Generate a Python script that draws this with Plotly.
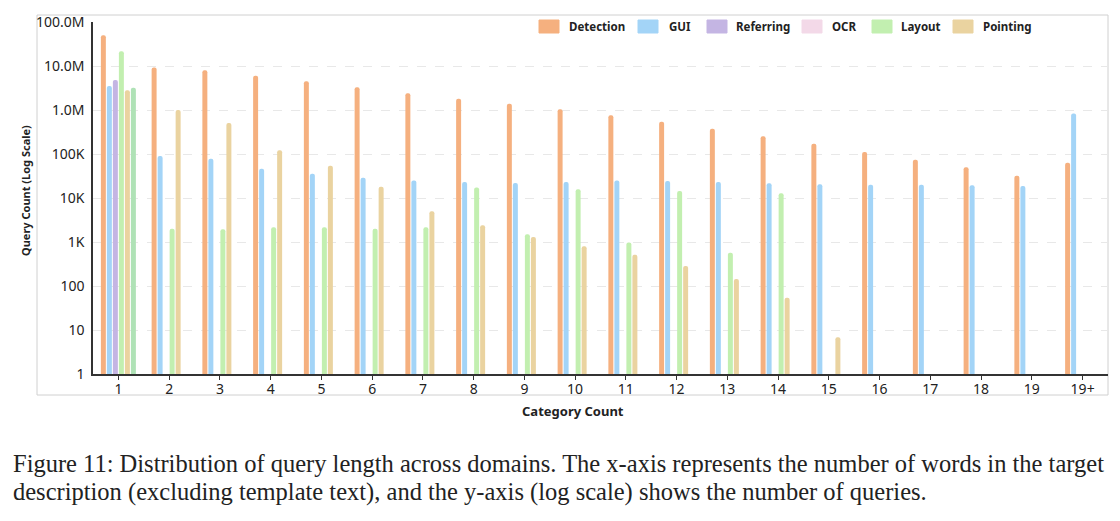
import plotly.graph_objects as go

categories = [str(i) for i in range(1, 20)] + ["19+"]

detection = [50e6, 9.2e6, 8.0e6, 6.0e6, 4.5e6, 3.3e6, 2.4e6, 1.8e6, 1.38e6, 1.04e6,
             760e3, 540e3, 377e3, 252e3, 170e3, 111e3, 74e3, 50e3, 32e3, 63e3]
gui = [3.5e6, 90e3, 78e3, 46e3, 35.6e3, 29e3, 25e3, 23e3, 22e3, 23e3,
       25e3, 24.5e3, 23e3, 21.5e3, 20.5e3, 20e3, 20e3, 19.4e3, 18.7e3, 830e3]
referring = [4.8e6] + [None] * 19
layout_vals = [21.6e6, 2.0e3, 1.95e3, 2.15e3, 2.15e3, 2.0e3, 2.15e3, 17.4e3, 1.5e3, 15.8e3,
               980, 14.4e3, 570, 12.8e3] + [None] * 6
pointing = [2.8e6, 1.0e6, 505e3, 121e3, 54e3, 18e3, 5.0e3, 2.4e3, 1.3e3, 800,
            515, 285, 145, 54, 6.8] + [None] * 5
extra = [3.2e6] + [None] * 19

legend_names = ["Detection", "GUI", "Referring", "OCR", "Layout", "Pointing"]
legend_colors = ["#f5b07f", "#a3d4f7", "#c4b5e3", "#f3d9e8", "#c2efb0", "#ead3a0"]

y_tickvals = [1, 10, 100, 1e3, 1e4, 1e5, 1e6, 1e7, 1e8]
y_ticktext = ["1", "10", "100", "1K", "10K", "100K", "1.0M", "10.0M", "100.0M"]

# plot area in pixels
L, R, T, B = 93, 1108, 22, 374
W, H = 1120, 521


def px_x(px):
    return (px - L) / (R - L)


def px_y(py):
    return (B - py) / (B - T)


series = [
    ("Detection", detection, "#f5b07f"),
    ("GUI", gui, "#a3d4f7"),
    ("Referring", referring, "#c4b5e3"),
    ("Layout", layout_vals, "#c2efb0"),
    ("Pointing", pointing, "#ead3a0"),
    ("Other", extra, "#afe2b6"),
]

fig = go.Figure()
for name, vals, col in series:
    fig.add_trace(go.Bar(
        x=categories, y=vals, name=name, showlegend=False,
        marker=dict(color=col, line=dict(width=0), cornerradius=2),
    ))

shapes = []
annotations = []

# outer chart border
shapes.append(dict(type="rect", xref="paper", yref="paper",
                   x0=px_x(37), x1=px_x(1108), y0=px_y(395), y1=px_y(15),
                   line=dict(color="#d0d0d0", width=1), fillcolor="rgba(0,0,0,0)",
                   layer="below"))

# custom legend
sw_x = [539, 638, 707, 802, 872, 953]
txt_x = [567, 667, 734, 830, 899, 981]
for name, col, sx, tx in zip(legend_names, legend_colors, sw_x, txt_x):
    x0, x1 = px_x(sx), px_x(sx + 20)
    y0, y1 = px_y(33), px_y(20)
    shapes.append(dict(type="rect", xref="paper", yref="paper",
                       x0=x0, x1=x1, y0=y0, y1=y1,
                       line=dict(color=col, width=1), fillcolor=col))
    annotations.append(dict(x=px_x(tx), y=px_y(26.5), xref="paper", yref="paper",
                            text=f"<b>{name}</b>", showarrow=False,
                            xanchor="left", yanchor="middle",
                            font=dict(family="Noto Sans", size=11.5, color="#222")))

# axis titles
annotations.append(dict(x=px_x(25), y=px_y(191), xref="paper", yref="paper",
                        text="<b>Query Count (Log Scale)</b>", showarrow=False,
                        textangle=-90, xanchor="center", yanchor="middle",
                        font=dict(family="Noto Sans", size=11, color="#222")))
annotations.append(dict(x=px_x(573), y=px_y(411), xref="paper", yref="paper",
                        text="<b>Category Count</b>", showarrow=False,
                        xanchor="center", yanchor="middle",
                        font=dict(family="Noto Sans", size=13, color="#222")))

# caption
cap1 = ("Figure 11: Distribution of query length across domains. The x-axis represents "
        "the number of words in the target")
cap2 = ("description (excluding template text), and the y-axis (log scale) shows the "
        "number of queries.")
for txt, py in [(cap1, 463), (cap2, 492)]:
    annotations.append(dict(x=px_x(11), y=px_y(py), xref="paper", yref="paper",
                            text=txt, showarrow=False, xanchor="left", yanchor="middle",
                            font=dict(family="Liberation Serif", size=24.5, color="#222")))

fig.update_layout(
    width=W, height=H,
    margin=dict(l=L, r=W - R, t=T, b=H - B, pad=0),
    paper_bgcolor="white", plot_bgcolor="white",
    barmode="group", bargap=0.29, bargroupgap=0.17,
    shapes=shapes, annotations=annotations,
    showlegend=False,
    font=dict(family="Noto Sans", color="#333"),
)

fig.update_xaxes(
    type="category", range=[-0.5, 19.5],
    showline=True, linecolor="#333", linewidth=1.5,
    ticks="outside", ticklen=4, tickcolor="#333", tickwidth=1,
    ticklabelstandoff=-3,
    tickfont=dict(size=14, color="#222"), showgrid=False, zeroline=False,
)
fig.update_yaxes(
    type="log", range=[0, 8],
    tickvals=y_tickvals, ticktext=y_ticktext,
    showline=True, linecolor="#333", linewidth=1.5,
    ticks="", ticklabelstandoff=4,
    tickfont=dict(size=14, color="#222"),
    showgrid=True, gridcolor="#e8e8e8", griddash="dash", gridwidth=1,
    zeroline=False,
)

fig.write_html("out.html")
